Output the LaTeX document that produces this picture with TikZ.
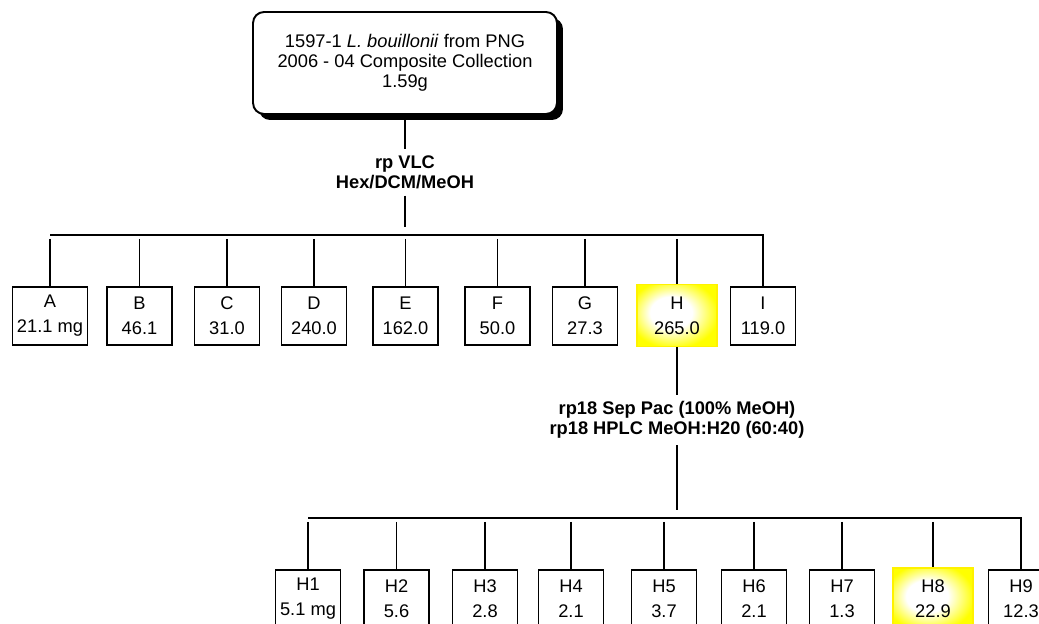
\documentclass[tikz,border=0pt]{standalone}
\usepackage{fontspec}
\setmainfont{Liberation Sans}
\usetikzlibrary{shadows}

\pgfdeclareradialshading{bagliore}{\pgfpoint{-5bp}{3bp}}{color(0bp)=(white); color(13bp)=(white); color(28bp)=(yellow); color(50bp)=(yellow)}

\tikzset{
  filo/.style={line width=1.1pt},
  stacco/.style={filo, shorten <=0.08cm},
  frazione/.style={draw, line width=0.8pt, minimum width=1.3cm, minimum height=1.16cm,
    inner sep=0pt, align=center, font=\fontsize{10.4}{14.2}\selectfont},
  scelta/.style={frazione, draw=yellow, shading=bagliore,
    minimum width=1.6cm, minimum height=1.24cm},
  etichetta/.style={align=center, inner xsep=2pt, inner ysep=3.6pt,
    font=\bfseries\fontsize{10.4}{11.4}\selectfont},
  campione/.style={draw, line width=1.1pt, fill=white, rounded corners=0.22cm,
    minimum width=6.08cm, minimum height=2.04cm, align=center,
    font=\fontsize{10.4}{11.4}\selectfont,
    drop shadow={fill=black, opacity=1, shadow xshift=0.12cm, shadow yshift=-0.12cm}}
}

\begin{document}
\begin{tikzpicture}[x=0.02cm, y=-0.02cm]
    \useasboundingbox (0,0) rectangle (1039,624);
    \clip (0,0) rectangle (1039,624);

    % campione di partenza
    \node[campione] (top) at (405,63) {1597-1 \textit{L. bouillonii} from PNG\\2006 - 04 Composite Collection\\1.59g};

    % primo frazionamento
    \node[etichetta] (vlc) at (405,172.5) {rp VLC\\Hex/DCM/MeOH};
    \coordinate (bus1) at (405,235);

    \node[frazione, minimum width=1.5cm] (A) at (50,316) {A\\21.1 mg};
    \node[frazione] (B) at (139.5,316) {B\\46.1};
    \node[frazione] (C) at (227,316) {C\\31.0};
    \node[frazione] (D) at (314,316) {D\\240.0};
    \node[frazione] (E) at (405.5,316) {E\\162.0};
    \node[frazione] (F) at (497.5,316) {F\\50.0};
    \node[frazione] (G) at (585,316) {G\\27.3};
    \node[scelta] (H) at (677,315.5) {H\\265.0};
    \node[frazione] (I) at (763,316) {I\\119.0};

    \draw[filo] (top) -- (vlc);
    \draw[filo, shorten >=0.15cm] (vlc) -- (bus1);
    \draw[filo] (bus1 -| A.north) -- (bus1 -| I.north) -- (I.north);
    \foreach \n in {A,B,C,D,E,F,G,H}
        \draw[stacco] (bus1 -| \n.north) -- (\n.north);

    % secondo frazionamento
    \node[etichetta] (hplc) at (677,420) {rp18 Sep Pac (100\% MeOH)\\rp18 HPLC MeOH:H20 (60:40)};
    \coordinate (bus2) at (677,518);

    \node[frazione] (H1) at (308,599) {H1\\5.1 mg};
    \node[frazione] (H2) at (396.5,599) {H2\\5.6};
    \node[frazione] (H3) at (485,599) {H3\\2.8};
    \node[frazione] (H4) at (571,599) {H4\\2.1};
    \node[frazione] (H5) at (664,599) {H5\\3.7};
    \node[frazione] (H6) at (754,599) {H6\\2.1};
    \node[frazione] (H7) at (842,599) {H7\\1.3};
    \node[scelta] (H8) at (933,599) {H8\\22.9};
    \node[frazione] (H9) at (1021,599) {H9\\12.3};

    \draw[filo] (H) -- (hplc);
    \draw[filo, shorten >=0.15cm] (hplc) -- (bus2);
    \draw[filo] (bus2 -| H1.north) -- (bus2 -| H9.north) -- (H9.north);
    \foreach \n in {H1,H2,H3,H4,H5,H6,H7,H8}
        \draw[stacco] (bus2 -| \n.north) -- (\n.north);
\end{tikzpicture}
\end{document}
